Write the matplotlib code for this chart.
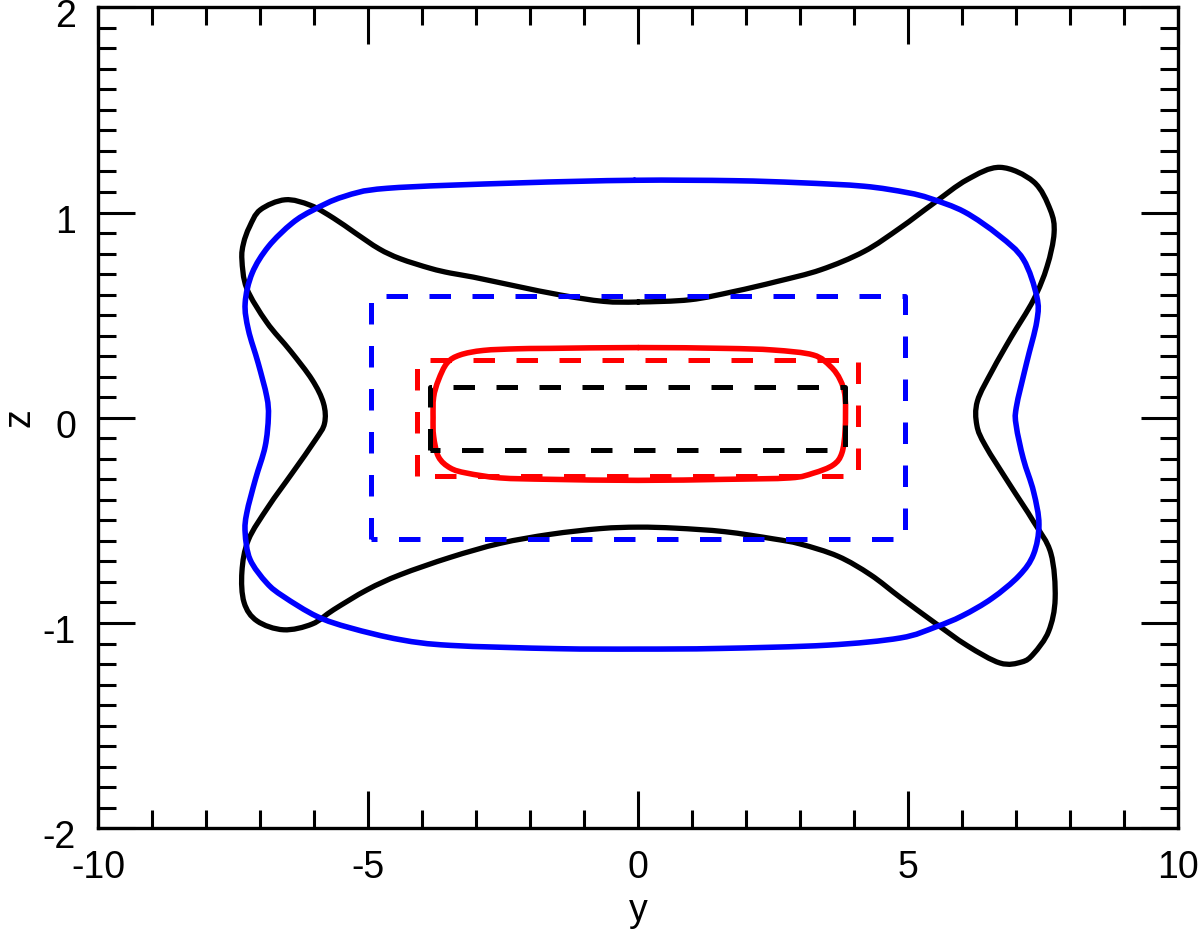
import matplotlib
matplotlib.use('Agg')
import matplotlib.pyplot as plt
import matplotlib.transforms as mtransforms
from matplotlib.path import Path
from matplotlib.patches import PathPatch
from matplotlib.ticker import MultipleLocator

plt.rcParams['font.family'] = ['Liberation Sans', 'DejaVu Sans']
plt.rcParams['axes.unicode_minus'] = False

# dashed boxes: (y left, y right, z bottom, z top)
rect_black = (-3.85, 3.83, -0.155, 0.152)
rect_red = (-4.10, 4.06, -0.286, 0.279)
rect_blue = (-4.95, 4.94, -0.590, 0.593)

# red solid contour
red_y = [0.0, -1.63, -2.24, -2.87, -3.30, -3.54, -3.70, -3.79, -3.80, -3.79,
         -3.70, -3.48, -3.17, -2.56, -1.63, 0.0, 1.60, 2.81, 3.24, 3.61,
         3.77, 3.83, 3.83, 3.74, 3.56, 3.24, 2.50, 1.60, 0.0]
red_z = [0.342, 0.338, 0.336, 0.328, 0.306, 0.267, 0.184, 0.10, 0.0, -0.09,
         -0.19, -0.245, -0.27, -0.293, -0.30, -0.305, -0.30, -0.293, -0.27, -0.23,
         -0.172, -0.06, 0.10, 0.184, 0.25, 0.306, 0.33, 0.338, 0.342]

# blue solid contour
blue_y = [-0.07, 1.77, 3.00, 4.18, 4.98, 5.41, 6.04, 6.68, 7.13, 7.38,
          7.38, 7.19, 7.00, 7.00, 7.13, 7.32, 7.42, 7.32, 7.05, 6.55,
          6.00, 5.50, 4.85, 3.50, 1.50, 0.0, -1.50, -3.48, -4.41, -5.33,
          -5.95, -6.57, -6.88, -7.19, -7.28, -7.25, -7.09, -6.91, -6.85, -6.88,
          -7.04, -7.22, -7.28, -7.15, -6.85, -6.41, -6.02, -5.46, -4.65, -2.24,
          -0.07]
blue_z = [1.157, 1.155, 1.145, 1.128, 1.097, 1.068, 1.003, 0.888, 0.772, 0.590,
          0.470, 0.266, 0.05, -0.04, -0.20, -0.36, -0.52, -0.665, -0.77, -0.88,
          -0.965, -1.02, -1.073, -1.108, -1.124, -1.127, -1.125, -1.109, -1.081, -1.024,
          -0.968, -0.871, -0.805, -0.690, -0.560, -0.464, -0.30, -0.14, 0.006, 0.103,
          0.267, 0.428, 0.559, 0.705, 0.834, 0.948, 1.012, 1.077, 1.118, 1.144,
          1.157]

# black solid contour
black_y = [0.0, -0.64, -1.44, -2.24, -3.05, -3.48, -3.85, -4.41, -4.80, -5.24,
           -5.64, -6.07, -6.54, -7.00, -7.20, -7.31, -7.34, -7.25, -6.88, -6.44,
           -6.04, -5.83, -5.81, -5.98, -6.41, -6.85, -7.22, -7.34, -7.30, -7.06,
           -6.57, -6.04, -5.64, -5.02, -4.41, -3.48, -2.56, -1.63, -0.70, 0.0,
           0.70, 1.60, 2.50, 3.00, 3.70, 4.30, 4.85, 5.47, 6.09, 6.70,
           7.10, 7.32, 7.60, 7.72, 7.64, 7.32, 6.87, 6.43, 6.27, 6.28,
           6.56, 6.90, 7.32, 7.57, 7.70, 7.63, 7.32, 6.70, 6.09, 5.47,
           4.85, 4.18, 3.38, 2.57, 1.77, 0.96, 0.0]
black_z = [0.564, 0.567, 0.598, 0.640, 0.685, 0.705, 0.728, 0.775, 0.823, 0.900,
           0.972, 1.035, 1.062, 1.013, 0.930, 0.850, 0.770, 0.630, 0.465, 0.325,
           0.185, 0.071, -0.027, -0.108, -0.270, -0.433, -0.595, -0.750, -0.900, -0.990,
           -1.033, -1.005, -0.935, -0.838, -0.765, -0.680, -0.612, -0.568, -0.540, -0.533,
           -0.538, -0.555, -0.590, -0.615, -0.675, -0.765, -0.875, -0.995, -1.110, -1.195,
           -1.190, -1.150, -1.040, -0.880, -0.660, -0.506, -0.322, -0.137, -0.037, 0.081,
           0.232, 0.390, 0.575, 0.737, 0.900, 1.013, 1.150, 1.220, 1.160, 1.045,
           0.925, 0.810, 0.721, 0.664, 0.615, 0.575, 0.564]


def rect_path(r):
    # start bottom-left and go up, like the original dash phase
    y0, y1, z0, z1 = r
    return [y0, y0, y1, y1, y0], [z0, z1, z1, z0, z0]


def closed_curve(ys, zs):
    """ Smooth closed path through the read points (Catmull-Rom as Bezier) """
    pts = list(zip(ys, zs))[:-1]
    n = len(pts)
    verts = [pts[0]]
    codes = [Path.MOVETO]
    for i in range(n):
        p0, p1 = pts[i - 1], pts[i]
        p2, p3 = pts[(i + 1) % n], pts[(i + 2) % n]
        c1 = (p1[0] + (p2[0] - p0[0]) / 6, p1[1] + (p2[1] - p0[1]) / 6)
        c2 = (p2[0] - (p3[0] - p1[0]) / 6, p2[1] - (p3[1] - p1[1]) / 6)
        verts += [c1, c2, p2]
        codes += [Path.CURVE4] * 3
    return Path(verts, codes)


fig = plt.figure(figsize=(12, 9.3), dpi=100)
ax = fig.add_axes([0.0819, 0.1094, 0.9, 0.8828])

dash = (0, (4.3, 4.3))
for r, c in [(rect_black, 'black'), (rect_red, 'red'), (rect_blue, 'blue')]:
    ry, rz = rect_path(r)
    ax.plot(ry, rz, color=c, lw=3.6, ls=dash)

for ys, zs, c, lw in [(black_y, black_z, 'black', 3.8),
                      (red_y, red_z, 'red', 4.0),
                      (blue_y, blue_z, 'blue', 4.0)]:
    ax.add_patch(PathPatch(closed_curve(ys, zs), fill=False, edgecolor=c,
                           lw=lw, capstyle='round', joinstyle='round'))

ax.set_xlim(-10, 10)
ax.set_ylim(-2, 2)
ax.set_xticks([-10, -5, 0, 5, 10], ['-10', '-5', '0', '5', '10'])
ax.set_yticks([-2, -1, 0, 1, 2], ['-2', '-1', '0', '1', '2'])
ax.xaxis.set_minor_locator(MultipleLocator(1))
ax.yaxis.set_minor_locator(MultipleLocator(0.1))

ax.tick_params(which='both', direction='in', top=True, right=True,
               width=2.2, labelsize=27)
ax.tick_params(which='major', length=26.5)
ax.tick_params(which='minor', length=13)
ax.tick_params(axis='x', pad=16)
ax.tick_params(axis='y', pad=16)
for s in ax.spines.values():
    s.set_linewidth(2.4)

# labels on the z axis sit a little below their ticks
off = mtransforms.ScaledTranslation(0, -6 / 100, fig.dpi_scale_trans)
for lab in ax.get_yticklabels():
    lab.set_transform(lab.get_transform() + off)

ax.set_xlabel('y', fontsize=27, labelpad=5)
ax.set_ylabel('z', fontsize=27, labelpad=4)

fig.savefig('out.png', dpi=100)
